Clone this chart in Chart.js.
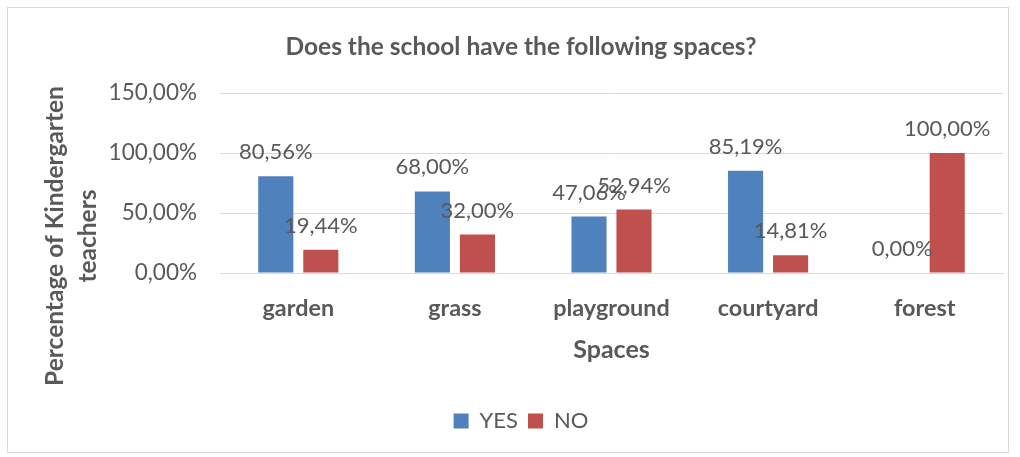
<!DOCTYPE html>
<html>
<head>
<meta charset="utf-8">
<script src="https://cdn.jsdelivr.net/npm/chart.js@4"></script>
<style>
  body { margin: 0; background: #fff; }
  #wrap { width: 1020px; height: 457px; }
</style>
</head>
<body>
<div id="wrap"><canvas id="myChart" width="1020" height="457"></canvas></div>
<script>
// data
var categories = ['garden', 'grass', 'playground', 'courtyard', 'forest'];
var yesValues = [80.56, 68.00, 47.06, 85.19, 0.00];
var noValues = [19.44, 32.00, 52.94, 14.81, 100.00];
var yTicks = [0, 50, 100, 150];

var textColor = '#595959';
var fontFam = "Lato, 'Open Sans', sans-serif";

function pct(v) {
    return v.toFixed(2).replace('.', ',') + '%';
}

// white background + light frame around the whole chart
const framePlugin = {
    id: 'frame',
    beforeDraw(chart) {
        const c = chart.ctx;
        c.save();
        c.fillStyle = '#fff';
        c.fillRect(0, 0, chart.width, chart.height);
        c.strokeStyle = '#d9d9d9';
        c.lineWidth = 1;
        c.strokeRect(7.5, 7.5, 1001, 445);
        c.restore();
    }
};

// value labels above each bar
const barLabels = {
    id: 'barLabels',
    afterDatasetsDraw(chart) {
        const c = chart.ctx;
        c.save();
        c.font = '22px ' + fontFam;
        c.fillStyle = textColor;
        c.textAlign = 'center';
        c.textBaseline = 'middle';
        chart.data.datasets.forEach(function(ds, i) {
            chart.getDatasetMeta(i).data.forEach(function(bar, j) {
                c.fillText(pct(ds.data[j]), bar.x, bar.y - 24);
            });
        });
        c.restore();
    }
};

// two-line rotated y axis title, centred lower than the plot like the original
const yTitle = {
    id: 'yTitle',
    afterDraw(chart) {
        const c = chart.ctx;
        c.save();
        c.font = 'bold 24.5px ' + fontFam;
        c.fillStyle = textColor;
        c.textAlign = 'center';
        c.textBaseline = 'middle';
        c.translate(55, 236);
        c.rotate(-Math.PI / 2);
        c.fillText('Percentage of Kindergarten', 0, 0);
        c.fillText('teachers', 0, 33);
        c.restore();
    }
};

const ctx = document.getElementById('myChart').getContext('2d');
const myChart = new Chart(ctx, {
    type: 'bar',
    data: {
        labels: categories,
        datasets: [{
            label: 'YES',
            data: yesValues,
            backgroundColor: '#4F81BD',
            categoryPercentage: 0.575,
            barPercentage: 0.78
        }, {
            label: 'NO',
            data: noValues,
            backgroundColor: '#C0504D',
            categoryPercentage: 0.575,
            barPercentage: 0.78
        }]
    },
    plugins: [framePlugin, barLabels, yTitle],
    options: {
        responsive: false,
        animation: false,
        layout: {
            padding: { top: 10, left: 39, right: 17, bottom: 15 }
        },
        plugins: {
            title: {
                display: true,
                text: 'Does the school have the following spaces?',
                color: textColor,
                font: { family: fontFam, size: 24.5, weight: 'bold', lineHeight: 1.2 },
                padding: { top: 22.3, bottom: 31.3 }
            },
            legend: {
                position: 'bottom',
                labels: {
                    color: textColor,
                    font: { family: fontFam, size: 22 },
                    boxWidth: 15,
                    boxHeight: 15,
                    padding: 10
                }
            },
            tooltip: { enabled: false }
        },
        scales: {
            x: {
                afterFit: function(scale) {
                    scale.height = 127;
                },
                grid: { display: false, drawTicks: false },
                border: { display: true, color: '#d9d9d9' },
                ticks: {
                    color: textColor,
                    padding: 21,
                    font: { family: fontFam, size: 23.4, weight: 'bold', lineHeight: 1.2 }
                },
                title: {
                    display: true,
                    text: 'Spaces',
                    color: textColor,
                    font: { family: fontFam, size: 25, weight: 'bold', lineHeight: 1.2 },
                    padding: { top: 0, bottom: 35 }
                }
            },
            y: {
                min: 0,
                max: 150,
                afterBuildTicks: function(scale) {
                    scale.ticks = yTicks.map(function(v) { return { value: v }; });
                },
                afterFit: function(scale) {
                    scale.width = 220 - 39;
                },
                grid: { color: '#d9d9d9', drawTicks: false },
                border: { display: false },
                ticks: {
                    color: textColor,
                    padding: 23,
                    font: { family: fontFam, size: 22.5 },
                    callback: function(v) { return pct(v); }
                }
            }
        }
    }
});
</script>
</body>
</html>
